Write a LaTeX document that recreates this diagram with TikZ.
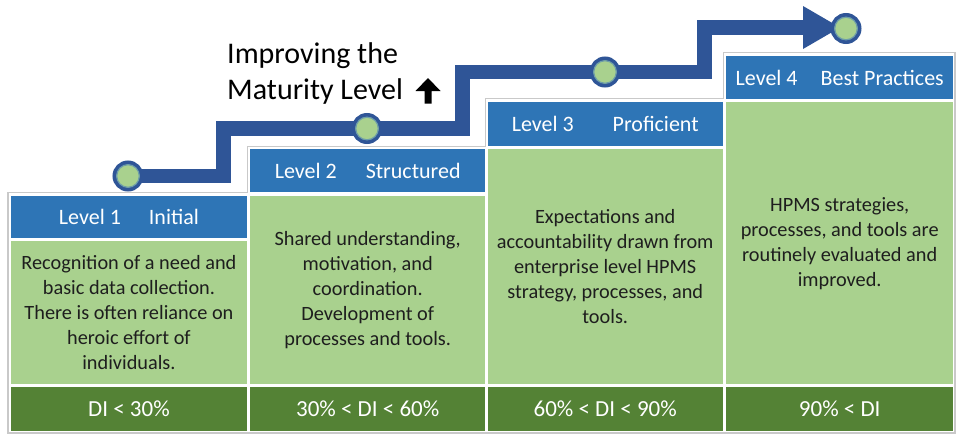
\documentclass[tikz,border=0pt]{standalone}
\usepackage{fontspec}
\setmainfont{Carlito}
\definecolor{hdrblue}{HTML}{2E75B6}
\definecolor{lgreen}{HTML}{A9D18E}
\definecolor{dgreen}{HTML}{548235}
\definecolor{pathblue}{HTML}{2F5597}
\definecolor{ringc}{HTML}{6E9EA8}
\definecolor{outl}{HTML}{C9C9C9}
\definecolor{bodytext}{HTML}{1E1E1E}
\begin{document}
\begin{tikzpicture}[x=1pt,y=-1pt,
  hdr/.style={fill=hdrblue, text=white, font=\fontsize{22}{26}\selectfont, inner sep=0pt, anchor=north west, minimum height=42pt},
  body/.style={fill=lgreen, text=bodytext, font=\fontsize{20.3}{25}\selectfont, align=center, inner sep=0pt, anchor=north west},
  di/.style={fill=dgreen, text=white, font=\fontsize{23}{28}\selectfont, inner sep=0pt, anchor=north west, minimum height=44pt},
  pathline/.style={draw=pathblue, line width=14.5pt, line join=miter},
  dot/.style={circle, fill=lgreen, draw=pathblue, line width=4pt, minimum size=27pt, inner sep=0pt},
  ring/.style={draw=ringc, line width=1.2pt},
  title/.style={font=\fontsize{30}{36}\selectfont, align=left, inner sep=0pt, anchor=north west, text=black}
]
\useasboundingbox (0,0) rectangle (956,434);
\fill[white] (0,0) rectangle (956,434);

% staircase outline
\draw[outl, line width=1.5pt] (8,433) -- (8,192.5) -- (247.5,192.5) -- (247.5,146.5) -- (485.5,146.5) -- (485.5,98.5) -- (723.5,98.5) -- (723.5,52.5) -- (955,52.5) -- (955,433) -- cycle;

% column 1
\node[hdr, minimum width=235.5pt] (h1) at (11,196) {Level 1\hspace{28pt}Initial};
\node[body, minimum width=235.5pt, minimum height=143pt] (b1) at (11,241) {Recognition of a need and\\basic data collection.\\There is often reliance on\\heroic effort of\\individuals.};
\node[di, minimum width=235.5pt] (d1) at (11,387) {DI < 30\%};

% column 2
\node[hdr, minimum width=235pt, minimum height=43pt] (h2) at (250,149) {Level 2\hspace{29pt}Structured};
\node[body, minimum width=235pt, minimum height=188pt] (b2) at (250,196) {Shared understanding,\\motivation, and\\coordination.\\Development of\\processes and tools.};
\node[di, minimum width=235pt] (d2) at (250,387) {30\% < DI < 60\%};

% column 3
\node[hdr, minimum width=235pt, minimum height=44pt] (h3) at (487.5,102) {Level 3\hspace{39pt}Proficient};
\node[body, minimum width=235pt, minimum height=235pt] (b3) at (487.5,149) {Expectations and\\accountability drawn from\\enterprise level HPMS\\strategy, processes, and\\tools.};
\node[di, minimum width=235pt] (d3) at (487.5,387) {60\% < DI < 90\%};

% column 4
\node[hdr, minimum width=227pt, minimum height=43pt] (h4) at (726,56) {Level 4\hspace{23pt}Best Practices};
\node[body, minimum width=227pt, minimum height=282pt] (b4) at (726,102) {HPMS strategies,\\processes, and tools are\\routinely evaluated and\\improved.};
\node[di, minimum width=227pt] (d4) at (726,387) {90\% < DI};

% title
\node[title] (t) at (227,42) {Improving the\\Maturity Level};
\fill[black] (428,78) -- (440.5,91) -- (431.5,91) -- (431.5,103.5) -- (424.5,103.5) -- (424.5,91) -- (415.5,91) -- cycle;

% maturity path
\coordinate (p1) at (128,176);
\coordinate (p2) at (367,128.5);
\coordinate (p3) at (605,72);
\coordinate (p4) at (846,28.5);
\coordinate (k1) at (223.5,128.5);
\coordinate (k2) at (462.5,72);
\coordinate (k3) at (704.5,27.5);
\coordinate (ab) at (806,27.5);
\draw[pathline] (p1) -| (k1) -- (p2) -| (k2) -- (p3) -| (k3) -- (ab);
\fill[pathblue] (803,6) -- (840,27.5) -- (803,49) -- cycle;

\foreach \i in {1,2,3,4}{
  \node[dot] (c\i) at (p\i) {};
  \draw[ring] (c\i.center) circle (11.3pt);
}
\end{tikzpicture}
\end{document}
